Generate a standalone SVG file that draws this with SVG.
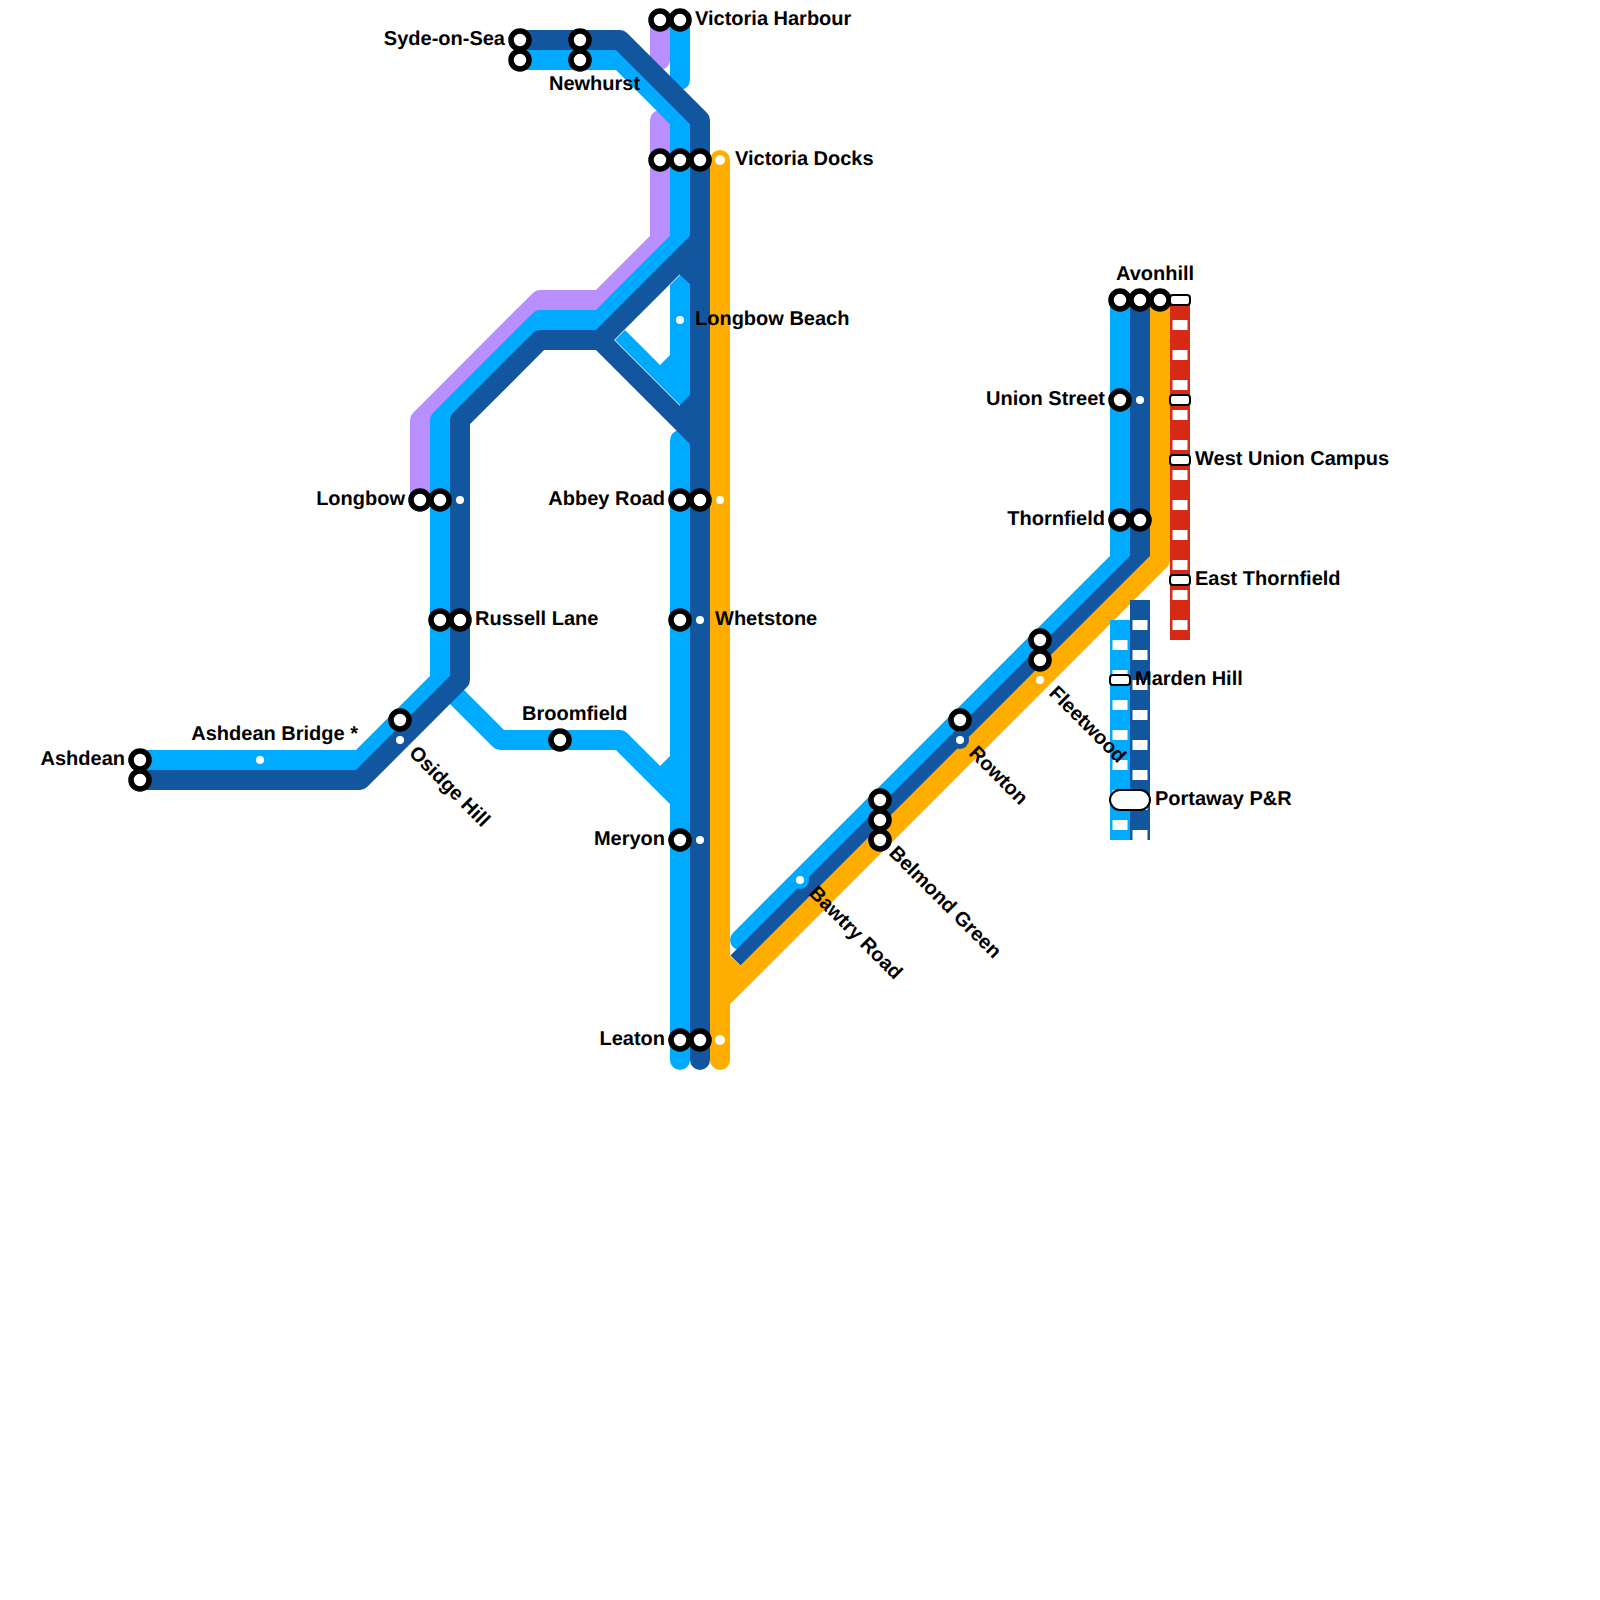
<svg xmlns="http://www.w3.org/2000/svg" width="1600" height="1600" viewBox="0 0 1600 1600">
<style>
.l{fill:none;stroke-width:20;stroke-linejoin:round;stroke-linecap:butt}
.r{stroke-linecap:round}
.pu{stroke:#b98eff}.lb{stroke:#00aaff}.db{stroke:#11569f}.or{stroke:#ffae00}.re{stroke:#d62a14}
.d{fill:none;stroke:#fff;stroke-width:15;stroke-dasharray:10 20}
.s{fill:#fff;stroke:#000;stroke-width:5.6}
.p{fill:#fff;stroke:#000;stroke-width:2}
.w{fill:#fff}
text{font-family:"Liberation Sans",Arial,sans-serif;font-weight:700;font-size:20px;fill:#000;text-rendering:geometricPrecision}
.e{text-anchor:end}
</style>
<rect width="1600" height="1600" fill="#fff"/>
<g id="connectors">
<path class="l r pu" d="M660 20V60"/>
<path class="l r pu" d="M660 120V240L600 300H540L420 420V500"/>
<path class="l r lb" d="M680 20V80"/>
<path class="l lb" d="M520 60H620L680 120V240L600 320H540L440 420V680L360 760H140"/>
<path class="l lb" d="M450 690L500 740H620L680 800"/>
<path class="l r lb" d="M680 440V1060"/>
<polygon fill="#00aaff" points="660,766 670,756 670,780"/>
<path class="l lb r" d="M740 940L1120 560V300"/>
<path class="l db" d="M520 40H620L700 120V1040"/>
<path class="l r db" d="M700 1040V1060"/>
<path class="l db" d="M700 240L600 340H540L460 420V680L360 780H140"/>
<path class="l db" d="M600 340L700 440"/>
<rect x="680" y="260" width="12" height="160" fill="#11569f"/>
<polygon fill="#00aaff" points="615,340 625,330 660,365 670,355 670,285 680,275 690,284 690,395 680,405"/>
<path class="l db" d="M737.5 962.5L1140 560V300"/>
<path class="l or r" d="M720 160V1060"/>
<path class="l or" d="M720 1000L1160 560V300"/>
<polygon fill="#ffae00" points="729,955 741,966 729,982"/>
<path class="l re" d="M1180 300V640"/>
<path class="d" d="M1180 320V640"/>
<path class="l lb" d="M1120 620V840"/>
<path class="d" d="M1120 640V840"/>
<path class="l db" d="M1140 600V840"/>
<path class="d" d="M1140 620V840"/>
</g>
<g id="ashdean"><circle class="s" cx="140" cy="760" r="9"/><circle class="s" cx="140" cy="780" r="9"/><text class="e" x="125" y="765">Ashdean</text></g>
<g id="ashdean-bridge"><circle class="w" cx="260" cy="760" r="4"/><text class="e" x="358" y="740">Ashdean Bridge *</text></g>
<g id="osidge-hill"><circle class="s" cx="400" cy="720" r="9"/><circle class="w" cx="400" cy="740" r="4"/><text transform="translate(408 754) rotate(45)">Osidge Hill</text></g>
<g id="longbow"><circle class="s" cx="420" cy="500" r="9"/><circle class="s" cx="440" cy="500" r="9"/><circle class="w" cx="460" cy="500" r="4"/><text class="e" x="405" y="505">Longbow</text></g>
<g id="russell-lane"><circle class="s" cx="440" cy="620" r="9"/><circle class="s" cx="460" cy="620" r="9"/><text x="475" y="625">Russell Lane</text></g>
<g id="broomfield"><circle class="s" cx="560" cy="740" r="9"/><text x="522" y="720">Broomfield</text></g>
<g id="syde-on-sea"><circle class="s" cx="520" cy="40" r="9"/><circle class="s" cx="520" cy="60" r="9"/><text class="e" x="505" y="45">Syde-on-Sea</text></g>
<g id="newhurst"><circle class="s" cx="580" cy="40" r="9"/><circle class="s" cx="580" cy="60" r="9"/><text x="549" y="90">Newhurst</text></g>
<g id="victoria-harbour"><circle class="s" cx="660" cy="20" r="9"/><circle class="s" cx="680" cy="20" r="9"/><text x="695" y="25">Victoria Harbour</text></g>
<g id="victoria-docks"><circle class="s" cx="660" cy="160" r="9"/><circle class="s" cx="680" cy="160" r="9"/><circle class="s" cx="700" cy="160" r="9"/><circle class="w" cx="720" cy="160" r="5"/><text x="735" y="165">Victoria Docks</text></g>
<g id="longbow-beach"><circle class="w" cx="680" cy="320" r="4"/><text x="695" y="325">Longbow Beach</text></g>
<g id="abbey-road"><circle class="s" cx="680" cy="500" r="9"/><circle class="s" cx="700" cy="500" r="9"/><circle class="w" cx="720" cy="500" r="4"/><text class="e" x="665" y="505">Abbey Road</text></g>
<g id="whetstone"><circle class="s" cx="680" cy="620" r="9"/><circle class="w" cx="700" cy="620" r="4"/><text x="715" y="625">Whetstone</text></g>
<g id="meryon"><circle class="s" cx="680" cy="840" r="9"/><circle class="w" cx="700" cy="840" r="4"/><text class="e" x="665" y="845">Meryon</text></g>
<g id="leaton"><circle class="s" cx="680" cy="1040" r="9"/><circle class="s" cx="700" cy="1040" r="9"/><circle class="w" cx="720" cy="1040" r="5"/><text class="e" x="665" y="1045">Leaton</text></g>
<g id="bawtry-road"><circle cx="800" cy="880" r="9" fill="#00aaff"/><circle class="w" cx="800" cy="880" r="4"/><text transform="translate(808 894) rotate(45)">Bawtry Road</text></g>
<g id="belmond-green"><circle class="s" cx="880" cy="800" r="9"/><circle class="s" cx="880" cy="820" r="9"/><circle class="s" cx="880" cy="840" r="9"/><text transform="translate(888 854) rotate(45)">Belmond Green</text></g>
<g id="rowton"><circle class="s" cx="960" cy="720" r="9"/><circle cx="960" cy="740" r="9" fill="#11569f"/><circle class="w" cx="960" cy="740" r="4"/><text transform="translate(968 754) rotate(45)">Rowton</text></g>
<g id="fleetwood"><circle class="s" cx="1040" cy="640" r="9"/><circle class="s" cx="1040" cy="660" r="9"/><circle class="w" cx="1040" cy="680" r="4"/><text transform="translate(1048 694) rotate(45)">Fleetwood</text></g>
<g id="thornfield"><circle class="s" cx="1120" cy="520" r="9"/><circle class="s" cx="1140" cy="520" r="9"/><text class="e" x="1105" y="525">Thornfield</text></g>
<g id="union-street"><circle class="s" cx="1120" cy="400" r="9"/><circle class="w" cx="1140" cy="400" r="4"/><rect class="p" x="1170" y="395" width="20" height="10" rx="3"/><text class="e" x="1105" y="405">Union Street</text></g>
<g id="avonhill"><circle class="s" cx="1120" cy="300" r="9"/><circle class="s" cx="1140" cy="300" r="9"/><circle class="s" cx="1160" cy="300" r="9"/><rect class="p" x="1170" y="295" width="20" height="10" rx="3"/><text x="1116" y="280">Avonhill</text></g>
<g id="west-union-campus"><rect class="p" x="1170" y="455" width="20" height="10" rx="3"/><text x="1195" y="465">West Union Campus</text></g>
<g id="east-thornfield"><rect class="p" x="1170" y="575" width="20" height="10" rx="3"/><text x="1195" y="585">East Thornfield</text></g>
<g id="marden-hill"><rect class="p" x="1110" y="675" width="20" height="10" rx="3"/><text x="1135" y="685">Marden Hill</text></g>
<g id="portaway"><rect class="p" x="1110" y="790" width="40" height="20" rx="10"/><text x="1155" y="805">Portaway P&amp;R</text></g>
</svg>
